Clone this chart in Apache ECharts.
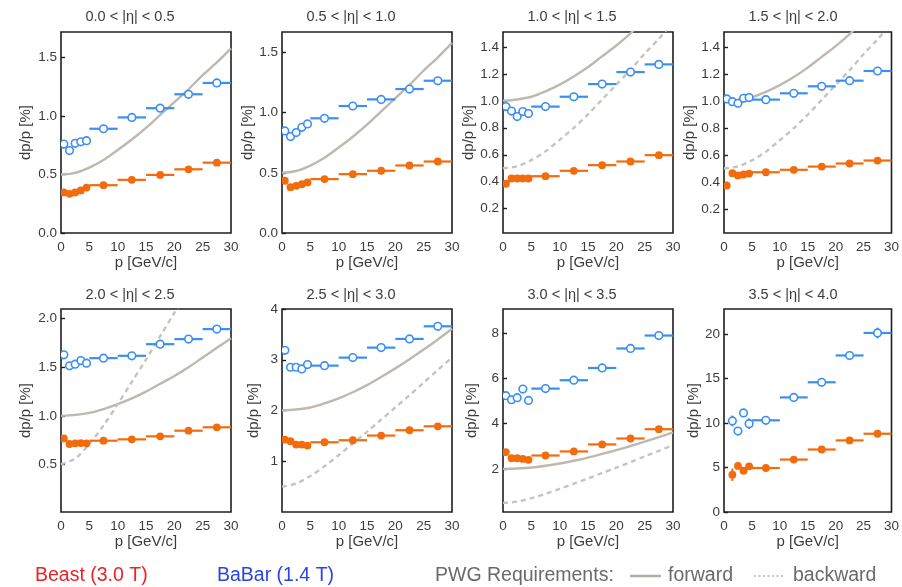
<!DOCTYPE html>
<html>
<head>
<meta charset="utf-8">
<script src="https://cdn.jsdelivr.net/npm/echarts@6/dist/echarts.min.js"></script>
<style>
html,body{margin:0;padding:0;background:#fff;}
#chart{width:902px;height:587px;}
</style>
</head>
<body>
<div id="chart"></div>
<script>
// ---- data ----
const panelTitles = ['0.0 < |η| < 0.5','0.5 < |η| < 1.0','1.0 < |η| < 1.5','1.5 < |η| < 2.0',
                     '2.0 < |η| < 2.5','2.5 < |η| < 3.0','3.0 < |η| < 3.5','3.5 < |η| < 4.0'];
const pCenters = [0.5, 1.5, 2.5, 3.5, 4.5, 7.5, 12.5, 17.5, 22.5, 27.5];
const binLow   = [0, 1, 2, 3, 4, 5, 10, 15, 20, 25];
const binHigh  = [1, 2, 3, 4, 5, 10, 15, 20, 25, 30];

// Beast (3.0 T) – orange filled
const beast1 = [0.347, 0.335, 0.347, 0.364, 0.389, 0.409, 0.455, 0.497, 0.545, 0.602];
const beast2 = [0.434, 0.381, 0.392, 0.406, 0.420, 0.448, 0.489, 0.517, 0.561, 0.594];
const beast3 = [0.385, 0.424, 0.424, 0.424, 0.424, 0.441, 0.481, 0.523, 0.550, 0.597];
const beast4 = [0.373, 0.465, 0.448, 0.455, 0.462, 0.472, 0.490, 0.514, 0.537, 0.559];
const beast5 = [0.768, 0.710, 0.717, 0.720, 0.717, 0.744, 0.758, 0.789, 0.847, 0.882];
const beast6 = [1.427, 1.394, 1.328, 1.328, 1.309, 1.374, 1.414, 1.506, 1.611, 1.689];
const beast7 = [2.74, 2.47, 2.47, 2.44, 2.40, 2.59, 2.77, 3.08, 3.34, 3.75];
const beast8 = [null, 4.19, 5.17, 4.64, 5.13, 4.94, 5.89, 7.02, 8.04, 8.79];
const beast8Err = [0, 0.7, 0, 0.25, 0, 0, 0, 0, 0, 0];

// BaBar (1.4 T) – blue open
const babar1 = [0.761, 0.705, 0.767, 0.780, 0.790, 0.892, 0.989, 1.068, 1.187, 1.284];
const babar2 = [0.848, 0.801, 0.834, 0.878, 0.906, 0.953, 1.055, 1.110, 1.196, 1.265];
const babar3 = [0.957, 0.924, 0.883, 0.920, 0.905, 0.957, 1.030, 1.124, 1.213, 1.270];
const babar4 = [1.017, 0.997, 0.985, 1.022, 1.027, 1.012, 1.059, 1.111, 1.153, 1.225];
const babar5 = [1.628, 1.515, 1.532, 1.570, 1.542, 1.594, 1.618, 1.738, 1.790, 1.893];
const babar6 = [3.186, 2.852, 2.852, 2.819, 2.904, 2.884, 3.042, 3.239, 3.410, 3.659];
const babar7 = [5.23, 5.05, 5.14, 5.52, 5.02, 5.54, 5.91, 6.45, 7.31, 7.88];
const babar8 = [null, 10.23, 9.09, 11.13, 9.92, 10.30, 12.87, 14.57, 17.58, 20.11];
const babar8Err = [0, 0.6, 0.3, 0.3, 0.6, 0, 0, 0, 0.3, 0.6];

// PWG requirement curves
const curveP      = [0, 2.5, 5, 7.5, 10, 12.5, 15, 17.5, 20, 22.5, 25, 27.5, 30];
const forwardLow  = [0.50, 0.515, 0.56, 0.625, 0.71, 0.80, 0.90, 1.01, 1.12, 1.23, 1.35, 1.46, 1.58];
const forwardMid  = [1.00, 1.01, 1.03, 1.07, 1.12, 1.18, 1.25, 1.33, 1.41, 1.50, 1.60, 1.70, 1.80];
const forwardHigh = [2.00, 2.02, 2.06, 2.14, 2.24, 2.36, 2.50, 2.66, 2.83, 3.01, 3.20, 3.40, 3.61];
const backwardLow = [0.50, 0.515, 0.56, 0.625, 0.71, 0.80, 0.90, 1.01, 1.12, 1.23, 1.35, 1.46, 1.58];
const backwardHigh= [0.50, 0.56, 0.71, 0.90, 1.12, 1.35, 1.58, 1.82, 2.06, 2.30, 2.55, 2.80, 3.04];

// axis ranges and tick labels
const yMin = [0, 0, 0.02, 0.02, 0.01, 0, 0.1, 0];
const yMax = [1.72, 1.67, 1.51, 1.515, 2.1, 4, 9.05, 22.8];
const yTicks1 = [0, 0.5, 1.0, 1.5];
const yTicks2 = [0, 0.5, 1.0, 1.5];
const yTicks3 = [0.2, 0.4, 0.6, 0.8, 1.0, 1.2, 1.4];
const yTicks4 = [0.2, 0.4, 0.6, 0.8, 1.0, 1.2, 1.4];
const yTicks5 = [0.5, 1.0, 1.5, 2.0];
const yTicks6 = [1, 2, 3, 4];
const yTicks7 = [2, 4, 6, 8];
const yTicks8 = [0, 5, 10, 15, 20];
const xTicks = [0, 5, 10, 15, 20, 25, 30];

// ---- build ----
const beastAll = [beast1, beast2, beast3, beast4, beast5, beast6, beast7, beast8];
const babarAll = [babar1, babar2, babar3, babar4, babar5, babar6, babar7, babar8];
const yTickAll = [yTicks1, yTicks2, yTicks3, yTicks4, yTicks5, yTicks6, yTicks7, yTicks8];
const labelDecimals = [1, 1, 1, 1, 1, 0, 0, 0];
const fwdCurves = [forwardLow, forwardLow, forwardMid, forwardMid, forwardMid, forwardHigh, forwardHigh, null];
const bwdCurves = [null, null, backwardLow, backwardLow, backwardHigh, backwardHigh, backwardHigh, null];
const nameGaps = [28, 20, 27, 25, 28, 21, 24, 23];

const BLUE = '#3b8ff0', ORANGE = '#f26b0c', CURVE = '#bfb8b0', CURVE_B = '#c8c3bd';
const FONT = '"Liberation Sans", Arial, sans-serif';
const TXT = '#3c3c3c';

const lefts = [61, 282, 503, 724];
const tops = [32, 309];
const W = 170, H = [201, 203];

const grid = [], xAxis = [], yAxis = [], series = [], graphic = [];

function makeRender(color, hollow) {
  return function (params, api) {
    const y = api.value(2);
    const a = api.coord([api.value(0), y]);
    const b = api.coord([api.value(1), y]);
    const c = api.coord([api.value(3), y]);
    const e = api.value(4);
    const ch = [{type: 'line', shape: {x1: a[0], y1: a[1], x2: b[0], y2: b[1]},
                 style: {stroke: color, lineWidth: 2.2}}];
    if (e > 0) {
      const t = api.coord([api.value(3), y + e]);
      const d = api.coord([api.value(3), y - e]);
      ch.push({type: 'line', shape: {x1: t[0], y1: t[1], x2: d[0], y2: d[1]},
               style: {stroke: color, lineWidth: 2}});
    }
    ch.push({type: 'circle', shape: {cx: c[0], cy: c[1], r: hollow ? 3.8 : 3.9},
             style: hollow ? {fill: '#fff', stroke: color, lineWidth: 1.6} : {fill: color}});
    return {type: 'group', children: ch};
  };
}

for (let i = 0; i < 8; i++) {
  const row = Math.floor(i / 4), col = i % 4;
  const left = lefts[col], top = tops[row], h = H[row];
  grid.push({left: left, top: top, width: W, height: h, show: true,
             borderColor: '#1e1e1e', borderWidth: 1.6, backgroundColor: 'transparent'});
  xAxis.push({
    type: 'value', gridIndex: i, min: 0, max: 30, interval: 5,
    name: 'p [GeV/c]', nameLocation: 'middle', nameGap: 20,
    nameTextStyle: {fontFamily: FONT, fontSize: 15, color: TXT},
    axisLine: {show: false}, axisTick: {show: false}, splitLine: {show: false},
    axisLabel: {fontFamily: FONT, fontSize: 13.5, color: TXT, margin: 7,
                customValues: xTicks, formatter: v => String(v)}
  });
  const dec = labelDecimals[i];
  yAxis.push({
    type: 'value', gridIndex: i, min: yMin[i], max: yMax[i],
    name: 'dp/p [%]', nameLocation: 'middle', nameGap: nameGaps[i],
    nameTextStyle: {fontFamily: FONT, fontSize: 15, color: TXT},
    axisLine: {show: false}, splitLine: {show: false},
    axisTick: {show: true, inside: true, length: 4, customValues: yTickAll[i],
               lineStyle: {color: '#1e1e1e', width: 1.4}},
    axisLabel: {fontFamily: FONT, fontSize: 13.5, color: TXT, margin: 4,
                customValues: yTickAll[i], formatter: v => Number(v).toFixed(dec)}
  });
  if (fwdCurves[i]) {
    series.push({type: 'line', xAxisIndex: i, yAxisIndex: i, smooth: 0.3, symbol: 'none',
                 data: curveP.map((p, k) => [p, fwdCurves[i][k]]),
                 lineStyle: {color: CURVE, width: 2.4}, silent: true, z: 1});
  }
  if (bwdCurves[i]) {
    series.push({type: 'line', xAxisIndex: i, yAxisIndex: i, smooth: 0.3, symbol: 'none',
                 data: curveP.map((p, k) => [p, bwdCurves[i][k]]),
                 lineStyle: {color: CURVE_B, width: 2.4, type: [5, 4]}, silent: true, z: 1});
  }
  const mk = (vals, errs) => vals.map((v, k) => v == null ? null :
      [binLow[k], binHigh[k], v, pCenters[k], errs ? errs[k] : 0]).filter(d => d);
  series.push({type: 'custom', xAxisIndex: i, yAxisIndex: i, clip: true, z: 3,
               renderItem: makeRender(BLUE, true),
               data: mk(babarAll[i], i === 7 ? babar8Err : null)});
  series.push({type: 'custom', xAxisIndex: i, yAxisIndex: i, clip: true, z: 4,
               renderItem: makeRender(ORANGE, false),
               data: mk(beastAll[i], i === 7 ? beast8Err : null)});
  graphic.push({type: 'text', x: left + W / 2 - 16, y: row === 0 ? 17 : 295,
                style: {text: panelTitles[i], font: '14.5px ' + FONT, fill: TXT,
                        textAlign: 'center', textVerticalAlign: 'middle'}});
}

// legend
const LY = 576;
const LF = '19.5px ' + FONT;
graphic.push({type: 'text', x: 35, y: LY, style: {text: 'Beast (3.0 T)', font: LF,
              fill: '#e8232a', textVerticalAlign: 'middle'}});
graphic.push({type: 'text', x: 217, y: LY, style: {text: 'BaBar (1.4 T)', font: LF,
              fill: '#2a44e6', textVerticalAlign: 'middle'}});
graphic.push({type: 'text', x: 435, y: LY, style: {text: 'PWG Requirements:', font: LF,
              fill: '#6a6a6a', textVerticalAlign: 'middle'}});
graphic.push({type: 'line', shape: {x1: 630, y1: LY, x2: 661, y2: LY},
              style: {stroke: '#b3aca4', lineWidth: 2.5}});
graphic.push({type: 'text', x: 668, y: LY, style: {text: 'forward', font: LF,
              fill: '#6a6a6a', textVerticalAlign: 'middle'}});
graphic.push({type: 'line', shape: {x1: 754, y1: LY, x2: 784, y2: LY},
              style: {stroke: '#b8b2ab', lineWidth: 1.6, lineDash: [2, 2.5]}});
graphic.push({type: 'text', x: 793, y: LY, style: {text: 'backward', font: LF,
              fill: '#6a6a6a', textVerticalAlign: 'middle'}});

const chart = echarts.init(document.getElementById('chart'), null, {renderer: 'canvas'});
chart.setOption({animation: false, backgroundColor: '#fff', grid, xAxis, yAxis, series, graphic});
</script>
</body>
</html>
